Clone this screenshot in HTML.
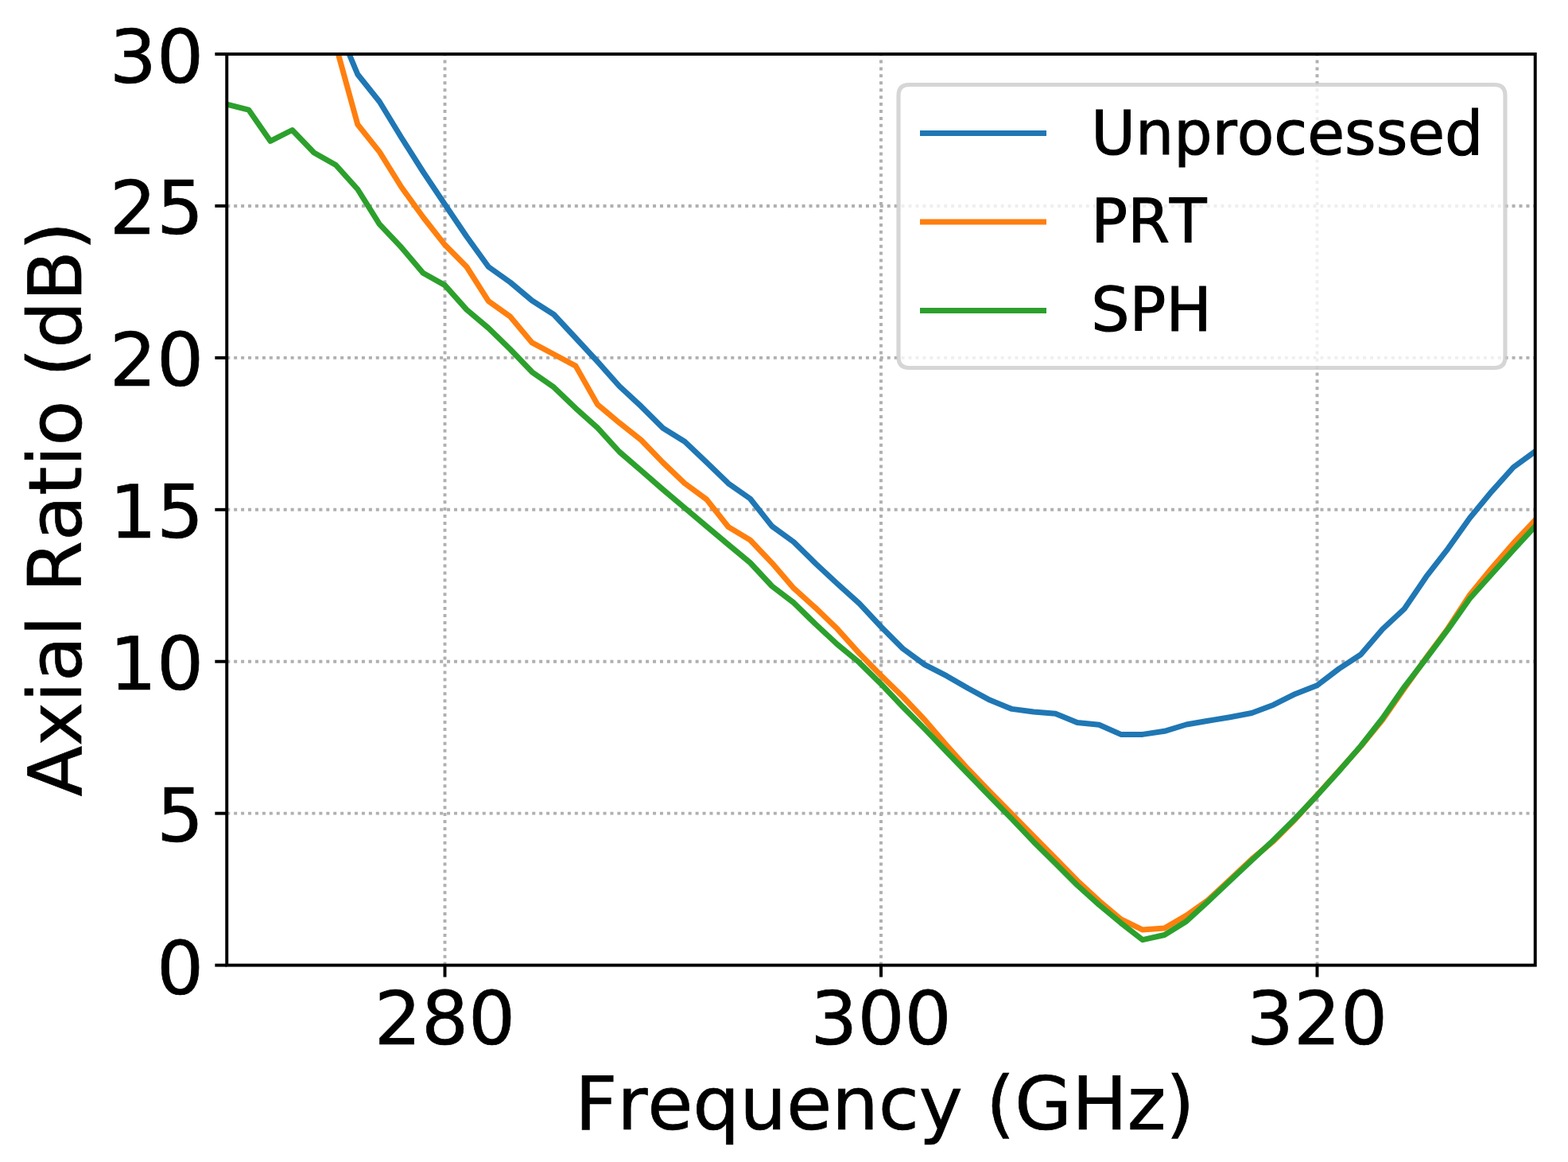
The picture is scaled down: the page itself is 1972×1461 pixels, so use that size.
<!DOCTYPE html>
<html><head><meta charset="utf-8"><title>Axial Ratio</title>
<style>
html,body{margin:0;padding:0;background:#fff;}
svg{display:block;}
text{font-family:"DejaVu Sans","Liberation Sans",sans-serif;fill:#000;font-kerning:none;}
</style></head><body>
<svg width="1972" height="1461" viewBox="0 0 1972 1461">
<rect x="0" y="0" width="1972" height="1461" fill="#ffffff"/>
<defs><clipPath id="ax"><rect x="285.25" y="68.0" width="1645.50" height="1145.60"/></clipPath></defs>
<g stroke="#b0b0b0" stroke-width="3.9" stroke-dasharray="4.0 4.93" fill="none">
<line x1="559.50" y1="1213.6" x2="559.50" y2="68.0"/>
<line x1="1108.00" y1="1213.6" x2="1108.00" y2="68.0"/>
<line x1="1656.50" y1="1213.6" x2="1656.50" y2="68.0"/>
<line x1="285.25" y1="258.93" x2="1930.75" y2="258.93"/>
<line x1="285.25" y1="449.87" x2="1930.75" y2="449.87"/>
<line x1="285.25" y1="640.80" x2="1930.75" y2="640.80"/>
<line x1="285.25" y1="831.73" x2="1930.75" y2="831.73"/>
<line x1="285.25" y1="1022.67" x2="1930.75" y2="1022.67"/>
</g>
<g clip-path="url(#ax)" fill="none" stroke-width="7.0" stroke-linejoin="round" stroke-linecap="square">
<polyline stroke="#1f77b4" points="422.38,28.00 449.80,93.50 477.23,127.80 504.65,172.80 532.08,216.00 559.50,257.00 586.92,297.50 614.35,335.50 641.78,355.00 669.20,378.00 696.62,395.50 724.05,425.00 751.48,454.70 778.90,485.50 806.33,510.90 833.75,538.20 861.18,555.20 888.60,581.30 916.02,607.80 943.45,627.00 970.88,661.70 998.30,681.50 1025.72,708.50 1053.15,734.00 1080.58,758.60 1108.00,788.00 1135.43,815.50 1162.85,835.60 1190.28,849.70 1217.70,865.50 1245.12,880.30 1272.55,891.40 1299.97,895.00 1327.40,897.30 1354.83,908.50 1382.25,911.30 1409.67,923.40 1437.10,923.40 1464.53,919.30 1491.95,911.00 1519.38,906.30 1546.80,901.70 1574.23,896.50 1601.65,886.20 1629.08,872.40 1656.50,861.80 1683.92,840.90 1711.35,823.00 1738.78,791.00 1766.20,765.50 1793.62,725.20 1821.05,689.80 1848.48,651.20 1875.90,618.10 1903.33,587.50 1930.75,567.50"/>
<polyline stroke="#ff7f0e" points="422.38,57.00 449.80,156.50 477.23,190.90 504.65,235.00 532.08,273.00 559.50,307.80 586.92,335.50 614.35,378.70 641.78,398.20 669.20,430.90 696.62,445.50 724.05,460.10 751.48,508.60 778.90,531.60 806.33,553.20 833.75,581.60 861.18,607.80 888.60,627.90 916.02,662.50 943.45,679.00 970.88,707.80 998.30,739.70 1025.72,764.30 1053.15,790.80 1080.58,821.40 1108.00,849.30 1135.43,876.00 1162.85,905.00 1190.28,936.90 1217.70,967.30 1245.12,995.80 1272.55,1023.40 1299.97,1051.50 1327.40,1079.30 1354.83,1107.20 1382.25,1132.60 1409.67,1155.70 1437.10,1169.10 1464.53,1167.10 1491.95,1151.00 1519.38,1131.50 1546.80,1106.00 1574.23,1080.30 1601.65,1057.50 1629.08,1030.00 1656.50,999.50 1683.92,969.00 1711.35,938.50 1738.78,905.00 1766.20,865.50 1793.62,827.00 1821.05,790.00 1848.48,748.00 1875.90,714.50 1903.33,683.00 1930.75,654.00"/>
<polyline stroke="#2ca02c" points="285.25,131.10 312.68,138.10 340.10,177.40 367.52,163.50 394.95,192.00 422.38,207.50 449.80,238.00 477.23,281.80 504.65,310.90 532.08,343.20 559.50,358.60 586.92,389.40 614.35,412.50 641.78,439.30 669.20,467.80 696.62,486.90 724.05,513.30 751.48,537.90 778.90,568.00 806.33,591.70 833.75,615.50 861.18,638.60 888.60,661.70 916.02,684.80 943.45,707.50 970.88,737.00 998.30,757.90 1025.72,784.80 1053.15,810.20 1080.58,832.90 1108.00,859.90 1135.43,888.80 1162.85,916.40 1190.28,945.00 1217.70,973.30 1245.12,1001.60 1272.55,1029.60 1299.97,1058.40 1327.40,1085.60 1354.83,1113.00 1382.25,1137.60 1409.67,1160.40 1437.10,1181.70 1464.53,1175.50 1491.95,1158.50 1519.38,1133.30 1546.80,1107.50 1574.23,1081.80 1601.65,1056.20 1629.08,1029.00 1656.50,1000.00 1683.92,969.60 1711.35,938.00 1738.78,903.00 1766.20,863.60 1793.62,828.00 1821.05,791.40 1848.48,752.50 1875.90,722.00 1903.33,691.40 1930.75,661.70"/>
</g>
<rect x="285.25" y="68.0" width="1645.50" height="1145.60" fill="none" stroke="#000" stroke-width="3.95" stroke-linejoin="miter" stroke-linecap="square"/>
<g stroke="#000" stroke-width="3.95">
<line x1="559.50" y1="1213.6" x2="559.50" y2="1228.50"/>
<line x1="1108.00" y1="1213.6" x2="1108.00" y2="1228.50"/>
<line x1="1656.50" y1="1213.6" x2="1656.50" y2="1228.50"/>
<line x1="285.25" y1="68.00" x2="270.35" y2="68.00"/>
<line x1="285.25" y1="258.93" x2="270.35" y2="258.93"/>
<line x1="285.25" y1="449.87" x2="270.35" y2="449.87"/>
<line x1="285.25" y1="640.80" x2="270.35" y2="640.80"/>
<line x1="285.25" y1="831.73" x2="270.35" y2="831.73"/>
<line x1="285.25" y1="1022.67" x2="270.35" y2="1022.67"/>
<line x1="285.25" y1="1213.60" x2="270.35" y2="1213.60"/>
</g>
<g font-size="93.05px" stroke="#000" stroke-width="0.7">
<text x="256.1" y="103.50" text-anchor="end">30</text>
<text x="256.1" y="293.63" text-anchor="end">25</text>
<text x="256.1" y="484.97" text-anchor="end">20</text>
<text x="256.1" y="676.00" text-anchor="end">15</text>
<text x="256.1" y="867.03" text-anchor="end">10</text>
<text x="256.1" y="1058.27" text-anchor="end">5</text>
<text x="256.1" y="1249.60" text-anchor="end">0</text>
<text x="559.50" y="1313.0" text-anchor="middle">280</text>
<text x="1108.00" y="1313.0" text-anchor="middle">300</text>
<text x="1656.50" y="1313.0" text-anchor="middle">320</text>
<text x="722.9" y="1419.9" letter-spacing="-0.2">Frequency (GHz)</text>
<text transform="translate(101.9,1001.6) rotate(-90)" x="0" y="0">Axial Ratio (dB)</text>
</g>
<path d="M1143.5,106.5 L1879.5,106.5 Q1893,106.5 1893,120.0 L1893,449.0 Q1893,462.5 1879.5,462.5 L1143.5,462.5 Q1130,462.5 1130,449.0 L1130,120.0 Q1130,106.5 1143.5,106.5 Z" fill="#ffffff" fill-opacity="0.8" stroke="#cccccc" stroke-opacity="0.8" stroke-width="5.2" stroke-linejoin="miter"/>
<g fill="none" stroke-width="7.0" stroke-linecap="square">
<line x1="1160.5" y1="167.5" x2="1312.5" y2="167.5" stroke="#1f77b4"/>
<line x1="1160.5" y1="279.0" x2="1312.5" y2="279.0" stroke="#ff7f0e"/>
<line x1="1160.5" y1="390.5" x2="1312.5" y2="390.5" stroke="#2ca02c"/>
</g>
<g font-size="76.1px" stroke="#000" stroke-width="1.1">
<text x="1372.3" y="193.8">Unprocessed</text>
<text x="1372.3" y="304.9">PRT</text>
<text x="1372.3" y="416.1">SPH</text>
</g>
</svg>
</body></html>
